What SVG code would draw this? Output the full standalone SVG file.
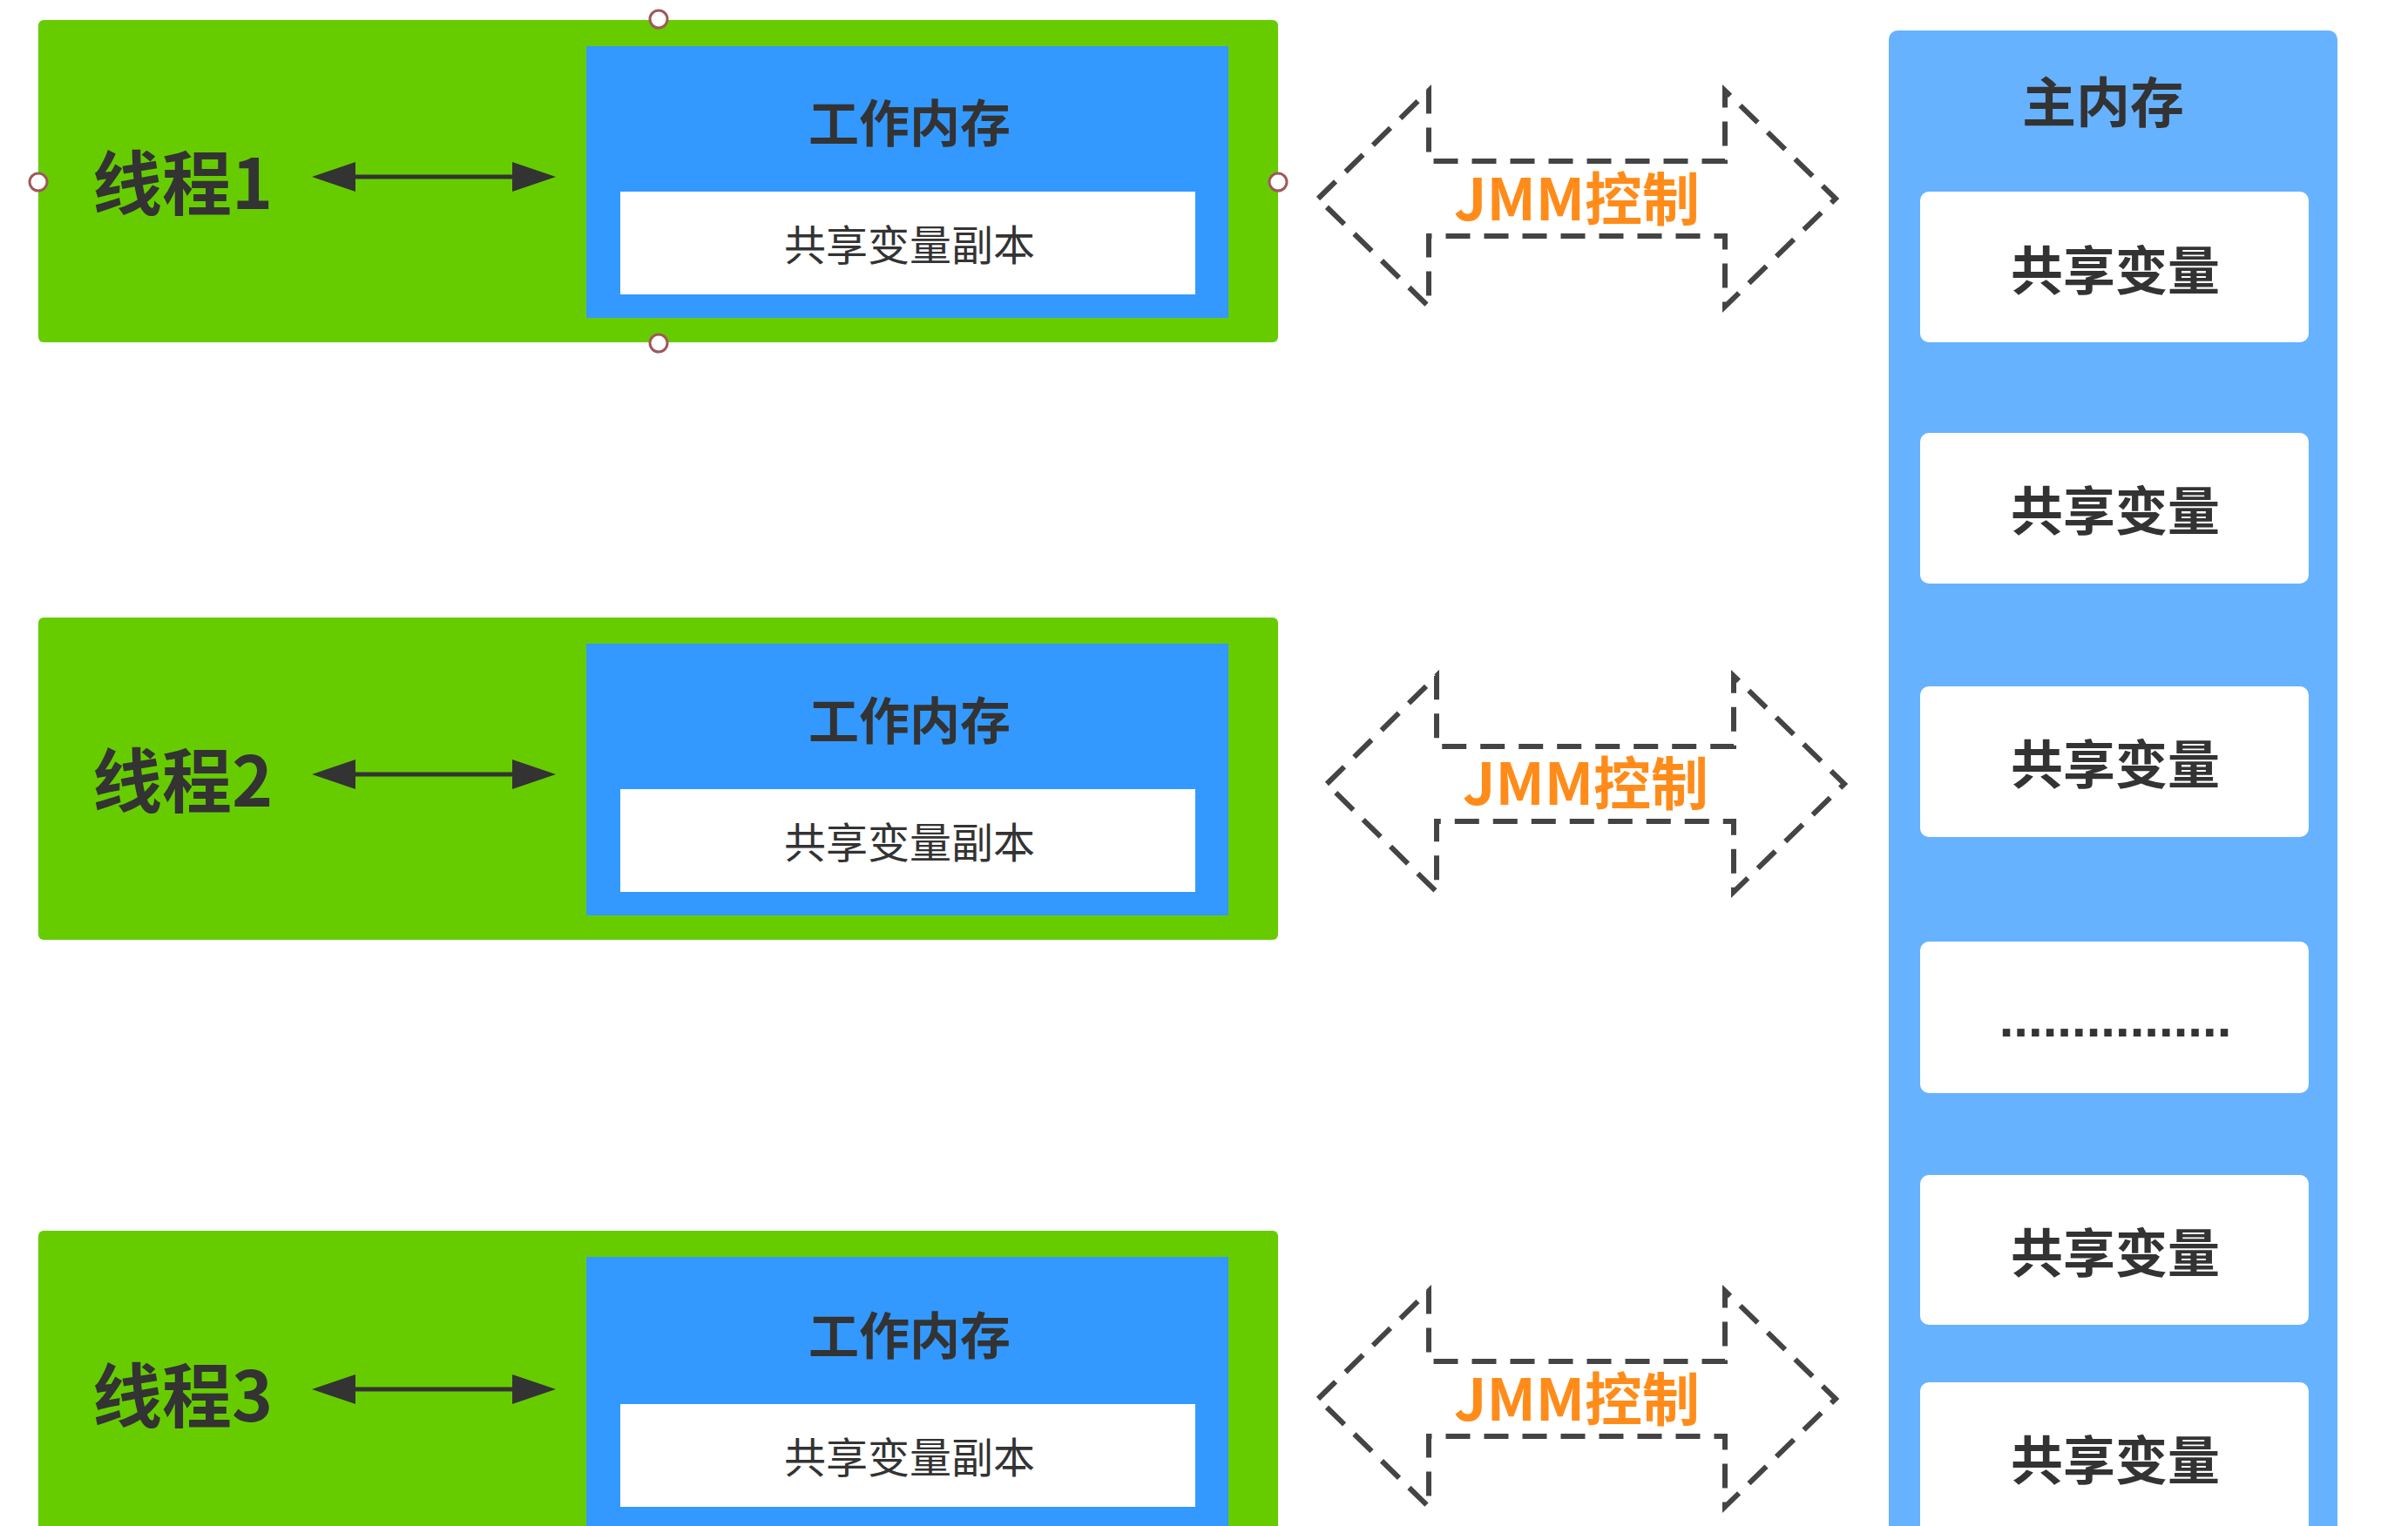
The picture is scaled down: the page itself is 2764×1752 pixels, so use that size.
<svg xmlns="http://www.w3.org/2000/svg" width="2764" height="1752" viewBox="0 0 2764 1752">
  <defs>
    <style>
      .thread { fill: #66CC00; }
      .work { fill: #3399FF; }
      .copy { fill: #FFFFFF; }
      .main { fill: #66B2FF; }
      .var { fill: #FFFFFF; }
      .t { font-family: "Noto Sans CJK SC", "Noto Sans", sans-serif; fill: #333333; }
      .tname { font-size: 80px; font-weight: bold; }
      .wtitle { font-size: 58px; font-weight: bold; text-anchor: middle; }
      .wcopy { font-size: 48px; text-anchor: middle; }
      .mtitle { font-size: 62px; font-weight: bold; text-anchor: middle; }
      .mvar { font-size: 60px; font-weight: bold; text-anchor: middle; }
      .dots { font-family: "Liberation Sans", sans-serif; font-size: 60px; font-weight: bold; fill: #333333; text-anchor: middle; }
      .jmm { font-family: "Noto Sans CJK SC", "Noto Sans", sans-serif; font-size: 66px; font-weight: bold; fill: #FF8C1A; text-anchor: middle; }
      .dash { fill: none; stroke: #444444; stroke-width: 6; stroke-dasharray: 28 16; stroke-linejoin: miter; }
      .link { stroke: #333333; stroke-width: 5; }
      .head { fill: #333333; }
      .handle { fill: #FFFFFF; stroke: #A0585A; stroke-width: 3; }
    </style>
  </defs>

  <rect x="0" y="0" width="2764" height="1752" fill="#FFFFFF"/>

  <!-- Thread 1 -->
  <g id="thread1">
    <rect class="thread" x="44" y="23" width="1423" height="370" rx="6"/>
    <text class="t tname" x="106" y="240">线程1</text>
    <g id="workmem1">
      <rect class="work" x="673" y="53" width="737" height="312"/>
      <text class="t wtitle" x="1044" y="163">工作内存</text>
      <rect class="copy" x="712" y="220" width="660" height="118"/>
      <text class="t wcopy" x="1044" y="299">共享变量副本</text>
    </g>
    <circle class="handle" cx="756" cy="22" r="10"/>
    <circle class="handle" cx="44" cy="209" r="10"/>
    <circle class="handle" cx="1467" cy="209" r="10"/>
    <circle class="handle" cx="756" cy="394" r="10"/>
  </g>

  <!-- Thread 2 -->
  <g id="thread2">
    <rect class="thread" x="44" y="709" width="1423" height="370" rx="6"/>
    <text class="t tname" x="106" y="926">线程2</text>
    <g id="workmem2">
      <rect class="work" x="673" y="739" width="737" height="312"/>
      <text class="t wtitle" x="1044" y="849">工作内存</text>
      <rect class="copy" x="712" y="906" width="660" height="118"/>
      <text class="t wcopy" x="1044" y="985">共享变量副本</text>
    </g>
  </g>

  <!-- Thread 3 -->
  <g id="thread3">
    <rect class="thread" x="44" y="1413" width="1423" height="360" rx="6"/>
    <text class="t tname" x="106" y="1632">线程3</text>
    <g id="workmem3">
      <rect class="work" x="673" y="1443" width="737" height="330"/>
      <text class="t wtitle" x="1044" y="1555">工作内存</text>
      <rect class="copy" x="712" y="1612" width="660" height="118"/>
      <text class="t wcopy" x="1044" y="1691">共享变量副本</text>
    </g>
  </g>

  <!-- Main memory -->
  <g id="mainmem">
    <rect class="main" x="2168" y="35" width="515" height="1740" rx="10"/>
    <text class="t mtitle" x="2414" y="141">主内存</text>
    <g id="var1">
      <rect class="var" x="2204" y="220" width="446" height="173" rx="10"/>
      <text class="t mvar" x="2428" y="333">共享变量</text>
    </g>
    <g id="var2">
      <rect class="var" x="2204" y="497" width="446" height="173" rx="10"/>
      <text class="t mvar" x="2428" y="609">共享变量</text>
    </g>
    <g id="var3">
      <rect class="var" x="2204" y="788" width="446" height="173" rx="10"/>
      <text class="t mvar" x="2428" y="900">共享变量</text>
    </g>
    <g id="var4">
      <rect class="var" x="2204" y="1081" width="446" height="174" rx="10"/>
      <text class="dots" x="2428" y="1190">................</text>
    </g>
    <g id="var5">
      <rect class="var" x="2204" y="1349" width="446" height="172" rx="10"/>
      <text class="t mvar" x="2428" y="1461">共享变量</text>
    </g>
    <g id="var6">
      <rect class="var" x="2204" y="1587" width="446" height="200" rx="10"/>
      <text class="t mvar" x="2428" y="1699">共享变量</text>
    </g>
  </g>

  <!-- Connectors -->
  <g id="connectors">
    <g id="link1">
      <line class="link" x1="400" y1="203" x2="596" y2="203"/>
      <polygon class="head" points="358,203 408,186 408,220"/>
      <polygon class="head" points="638,203 588,186 588,220"/>
    </g>
    <g id="link2">
      <line class="link" x1="400" y1="889" x2="596" y2="889"/>
      <polygon class="head" points="358,889 408,872 408,906"/>
      <polygon class="head" points="638,889 588,872 588,906"/>
    </g>
    <g id="link3">
      <line class="link" x1="400" y1="1595" x2="596" y2="1595"/>
      <polygon class="head" points="358,1595 408,1578 408,1612"/>
      <polygon class="head" points="638,1595 588,1578 588,1612"/>
    </g>

    <g id="jmm1">
      <polygon class="dash" points="1513,228 1640,104 1640,185 1980,185 1980,104 2107,228 1980,352 1980,271 1640,271 1640,352"/>
      <text class="jmm" x="1810" y="253">JMM控制</text>
    </g>
    <g id="jmm2">
      <polygon class="dash" points="1523,900 1649,776 1649,857 1990,857 1990,776 2117,900 1990,1024 1990,943 1649,943 1649,1024"/>
      <text class="jmm" x="1820" y="924">JMM控制</text>
    </g>
    <g id="jmm3">
      <polygon class="dash" points="1513,1606 1640,1482 1640,1563 1980,1563 1980,1482 2107,1606 1980,1730 1980,1649 1640,1649 1640,1730"/>
      <text class="jmm" x="1810" y="1631">JMM控制</text>
    </g>
  </g>
</svg>
